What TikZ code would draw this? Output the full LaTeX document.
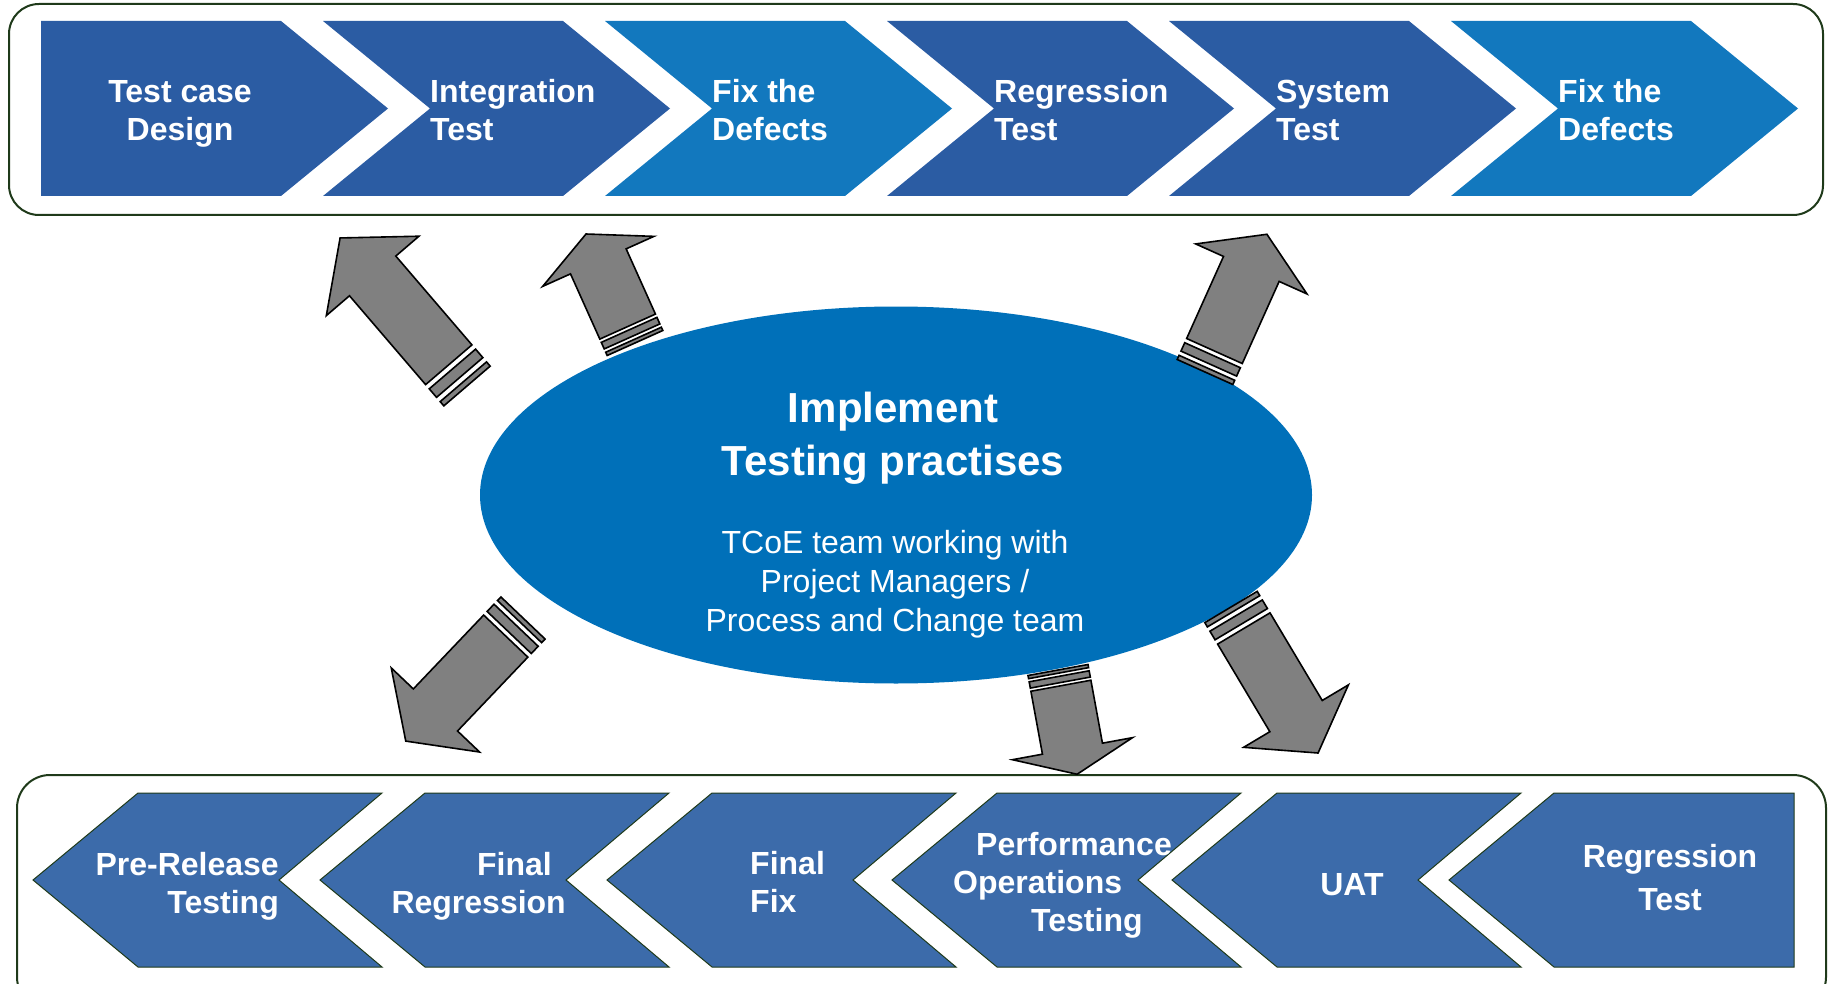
\documentclass[tikz,border=0pt]{standalone}
\usepackage{fontspec}
\setmainfont{Liberation Sans}
\usepackage{tikz}
\usetikzlibrary{math, calc, shapes.geometric}
\definecolor{TopDark}{HTML}{2B5CA3}
\definecolor{TopLight}{HTML}{1278BE}
\definecolor{BotBlue}{HTML}{3C6BAA}
\definecolor{EllBlue}{HTML}{0070B9}
\definecolor{FrameGreen}{HTML}{1F3A1A}
\definecolor{ArrowGray}{HTML}{808080}

\begin{document}
\begin{tikzpicture}[x=1pt, y=-1pt]
    \tikzset{%
        pics/stripearrow/.style args={#1/#2/#3}{code={%
                        \tikzmath{%
                            \arrlen=#1;
                            \stripezone=#2;
                            \headlen=#3;
                            \shafthw=30.5;
                            \headhw=61;
                        };

                        \begin{scope}[fill=ArrowGray, draw=black, line width=1.6pt, line join=miter]
                            \filldraw (0, -\shafthw) rectangle (\stripezone/5, \shafthw);
                            \filldraw (2*\stripezone/5, -\shafthw) rectangle (4*\stripezone/5, \shafthw);
                            \filldraw (\stripezone, -\shafthw) -- (\arrlen-\headlen, -\shafthw) -- (\arrlen-\headlen, -\headhw) -- (\arrlen, 0)
                                -- (\arrlen-\headlen, \headhw) -- (\arrlen-\headlen, \shafthw) -- (\stripezone, \shafthw) -- cycle;
                        \end{scope}
                    }
            },
        chevtext/.style={text=white, font=\bfseries\fontsize{32}{38}\selectfont, inner sep=0pt},
        frame/.style={draw=FrameGreen, line width=2pt}
    }

    \useasboundingbox (0, 0) rectangle (1830, 984);

    % frames
    \draw [frame, rounded corners=30] (9, 4) rectangle (1823, 215);
    \draw [frame, rounded corners=33] (17, 775) rectangle (1826, 1010);

    % upper row
    \foreach \i/\col in {0/TopDark, 1/TopDark, 2/TopLight, 3/TopDark, 4/TopDark, 5/TopLight} {%
            \pgfmathsetmacro{\notch}{\i>0 ? 107 : 0}
            \fill [\col] ({41+282*\i}, 21) -- ++(240, 0) -- ++(107, 87.5) -- ++(-107, 87.5) -- ++(-240, 0) -- ++(\notch, -87.5) -- cycle;
        };

    \node [chevtext, align=center] (t1) at (180, 114) {Test case\\Design};
    \node [chevtext, align=left, anchor=west] (t2) at (430, 110) {Integration\\Test};
    \node [chevtext, align=left, anchor=west] (t3) at (712, 110) {Fix the\\Defects};
    \node [chevtext, align=left, anchor=west] (t4) at (994, 110) {Regression\\Test};
    \node [chevtext, align=left, anchor=west] (t5) at (1276, 110) {System\\Test};
    \node [chevtext, align=left, anchor=west] (t6) at (1558, 110) {Fix the\\Defects};

    % lower row
    \foreach \tipx/\wd/\backnotch in {33/244/103, 320/244/103, 607/244/103, 892/244/103, 1172/244/103, 1449/240/0} {%
            \filldraw [fill=BotBlue, draw=FrameGreen, line width=1pt] (\tipx, 880) -- ++(105, -87) -- ++(\wd, 0) -- ++(-\backnotch, 87) -- ++(\backnotch, 87) -- ++(-\wd, 0) -- cycle;
        };

    \node [chevtext, align=right, anchor=east] (b1) at (279, 886) {Pre-Release\\Testing};
    \node [chevtext, align=right, anchor=east] (b2) at (566, 886) {Final\hspace*{14pt}\\Regression};
    \node [chevtext, align=left, anchor=west] (b3) at (750, 882) {Final\\Fix};
    \node [chevtext, align=left, anchor=west] (b4) at (953, 885) {\hspace{23pt}Performance\\Operations\\\hspace{78pt}Testing};
    \node [chevtext] (b5) at (1352, 885) {UAT};
    \node [chevtext, align=center, font=\bfseries\fontsize{32}{43}\selectfont] (b6) at (1670, 878) {Regression\\Test};

    % centre
    \node [ellipse, fill=EllBlue, minimum width=832, minimum height=377, inner sep=0pt] (impl) at (896, 495) {};
    \node [text=white, font=\bfseries\fontsize{42}{53}\selectfont, align=center] (impltitle) at (893, 438) {Implement\\Testing practises};
    \node [text=white, font=\fontsize{32}{39}\selectfont, align=center] (impltext) at (895, 584) {TCoE team working with\\Project Managers /\\Process and Change team};

    % arrows
    \pic [rotate=130.6] at (467, 386) {stripearrow=195/28/50};
    \pic [rotate=114.2] at (635, 343) {stripearrow=119.5/18/30};
    \pic [rotate=65.8] at (1205, 372) {stripearrow=151/23/38};
    \pic [rotate=226.4] at (523, 618) {stripearrow=170/25/43};
    \pic [rotate=-79.6] at (1058, 670) {stripearrow=106/16/26};
    \pic [rotate=-59.2] at (1231, 607) {stripearrow=170/25/43};
\end{tikzpicture}
\end{document}
